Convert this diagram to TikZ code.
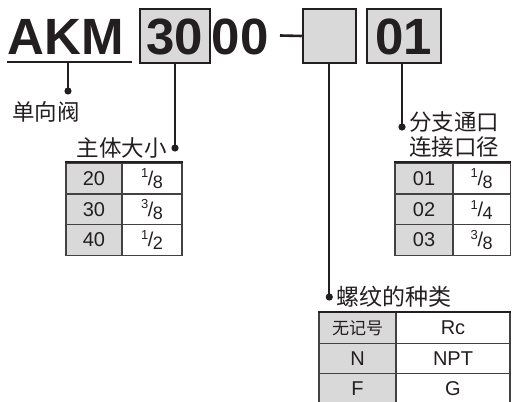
\documentclass[tikz,border=0pt]{standalone}
\usepackage{fontspec}
\setmainfont{Liberation Sans}
\newfontfamily\cjk{Noto Sans CJK SC}
\definecolor{ink}{RGB}{35,31,32}
\definecolor{cellgray}{RGB}{217,217,217}
\newcommand\fr[2]{\raisebox{0.38em}{\fontsize{13}{13}\selectfont#1}\kern-0.02em/\kern-0.02em\raisebox{-0.16em}{\fontsize{18}{18}\selectfont#2}}
\begin{document}
\begin{tikzpicture}[x=1pt,y=-1pt,
  big/.style={inner sep=0pt,font=\fontsize{51}{51}\selectfont\bfseries,text=ink},
  codebox/.style={draw=ink,line width=1.8pt,fill=cellgray,inner sep=0pt},
  conn/.style={draw=ink,line width=1.7pt},
  dotc/.style={fill=ink,draw=none},
  lab/.style={inner sep=0pt,font=\fontsize{22.5}{22.5}\selectfont\cjk,text=ink,anchor=west},
  cell/.style={draw=ink!85,line width=1.1pt,inner sep=0pt,font=\fontsize{20}{20}\selectfont,text=ink},
  gcell/.style={cell,fill=cellgray},
  wcell/.style={cell,fill=white}
]
\useasboundingbox (0,0) rectangle (513,401);
\clip (0,0) rectangle (513,401);
% header
\node[big,anchor=base west] (akm) at (7.5,55) {AKM};
\coordinate (ulA) at (7,62);
\coordinate (ulB) at (132,62);
\draw[ink,line width=2pt] (ulA) -- (ulB);
\node[codebox,minimum width=70pt,minimum height=53.4pt] (b30) at (175,36) {};
\node[big,anchor=base] at (175,55) {30};
\node[big,anchor=base west] (n00) at (211.5,55) {00};
\coordinate (dashA) at (280,35.5);
\node[codebox,minimum width=53.3pt,minimum height=53.4pt] (bblank) at (329.3,36) {};
\draw[ink,line width=2.6pt] (dashA) -- (bblank.west);
\node[codebox,minimum width=74pt,minimum height=53.4pt] (b01) at (403.7,36) {};
\node[big,anchor=base] at (403.7,55) {01};
% connector 1
\coordinate (c1top) at (68,62);
\coordinate (d1) at (68,91);
\draw[conn] (c1top) -- (d1);
\fill[dotc] (d1) circle (3.6pt);
\node[lab,anchor=center] (l1) at (46,112) {单向阀};
% connector 2
\coordinate (d2) at (175,148);
\draw[conn] (b30.south) -- (d2);
\fill[dotc] (d2) circle (3.6pt);
\node[lab,anchor=east] (l2) at (167,148) {主体大小};
% table 1
\foreach \r/\a/\b/\y in {1/20/\fr{1}{8}/178.5, 2/30/\fr{3}{8}/209.5, 3/40/\fr{1}{2}/240}{
  \node[gcell,minimum width=56pt,minimum height=31pt] (t1a\r) at (94,\y) {\a};
  \node[wcell,minimum width=60pt,minimum height=31pt] (t1b\r) at (152,\y) {\b};
}
\draw[ink,line width=2pt] (t1a1.north west) -- (t1b1.north east);
% connector 3
\coordinate (d3) at (402,127);
\draw[conn] (b01.south -| d3) -- (d3);
\fill[dotc] (d3) circle (3.6pt);
\node[lab] (l3a) at (409,122) {分支通口};
\node[lab] (l3b) at (409,147) {连接口径};
% table 2
\foreach \r/\a/\b/\y in {1/01/\fr{1}{8}/178.5, 2/02/\fr{1}{4}/210, 3/03/\fr{3}{8}/240}{
  \node[gcell,minimum width=58pt,minimum height=31pt] (t2a\r) at (424,\y) {\a};
  \node[wcell,minimum width=57.5pt,minimum height=31pt] (t2b\r) at (481.7,\y) {\b};
}
\draw[ink,line width=2pt] (t2a1.north west) -- (t2b1.north east);
% connector 4
\coordinate (d4) at (329.3,297);
\draw[conn] (bblank.south) -- (d4);
\fill[dotc] (d4) circle (3.6pt);
\node[lab,font=\fontsize{23}{23}\selectfont\cjk] (l4) at (336,297) {螺纹的种类};
% table 3
\foreach \r/\a/\b/\y in {1/{\cjk\fontsize{17}{17}\selectfont 无记号}/Rc/328, 2/N/NPT/358.5, 3/F/G/389}{
  \node[gcell,minimum width=77pt,minimum height=30.5pt] (t3a\r) at (357.5,\y) {\a};
  \node[wcell,minimum width=114pt,minimum height=30.5pt] (t3b\r) at (453,\y) {\b};
}
\draw[ink,line width=2pt] (t3a1.north west) -- (t3b1.north east);
\end{tikzpicture}
\end{document}
